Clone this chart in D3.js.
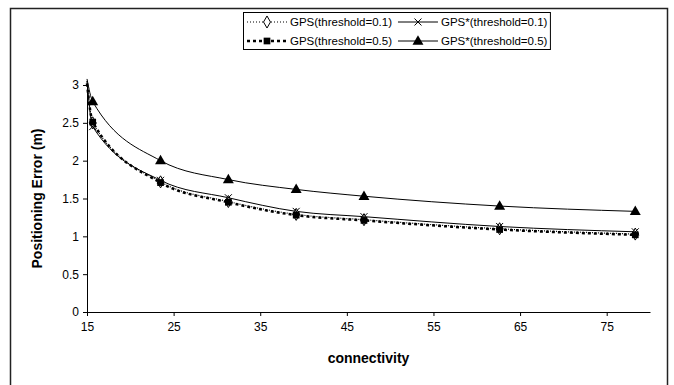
<!DOCTYPE html>
<html>
<head>
<meta charset="utf-8">
<script src="https://cdn.jsdelivr.net/npm/d3@7"></script>
<style>
  body { margin: 0; background: #fff; }
  text { font-family: "Liberation Sans", Arial, sans-serif; fill: #000; }
</style>
</head>
<body>
<script>
// connectivity values; the first one is where the curves enter the plot
// at the left edge (no marker is drawn there)
const connectivity = [15, 15.66, 23.49, 31.32, 39.15, 46.98, 62.64, 78.3];

const gpsT01 = [3.05, 2.5, 1.72, 1.46, 1.29, 1.22, 1.1, 1.03];
const gpsT05 = [3.02, 2.51, 1.71, 1.45, 1.28, 1.21, 1.09, 1.02];
const gpsStarT01 = [3.05, 2.45, 1.74, 1.51, 1.33, 1.26, 1.13, 1.06];
const gpsStarT05 = [3.08, 2.78, 2.0, 1.75, 1.62, 1.53, 1.4, 1.33];

const seriesNames = [
	"GPS(threshold=0.1)",
	"GPS*(threshold=0.1)",
	"GPS(threshold=0.5)",
	"GPS*(threshold=0.5)",
];

const xTicks = [15, 25, 35, 45, 55, 65, 75];
const yTicks = [0, 0.5, 1, 1.5, 2, 2.5, 3];

const width = 674;
const height = 385;

const series = [
	{ name: seriesNames[0], values: gpsT01, dash: "1,2", strokeWidth: 1.2, marker: "diamond" },
	{ name: seriesNames[1], values: gpsStarT01, dash: null, strokeWidth: 1, marker: "times" },
	{ name: seriesNames[2], values: gpsT05, dash: "3,3", strokeWidth: 2.5, marker: "square" },
	{ name: seriesNames[3], values: gpsStarT05, dash: null, strokeWidth: 1, marker: "triangle" },
];

const svg = d3
	.select("body")
	.append("svg")
	.attr("width", width)
	.attr("height", height);

// outer frame of the figure
svg
	.append("rect")
	.attr("x", 10.5)
	.attr("y", 8.5)
	.attr("width", 657)
	.attr("height", 400)
	.style("fill", "none")
	.style("stroke", "#222")
	.style("stroke-width", 1.5);

const x = d3.scaleLinear().domain([15, 80]).range([87, 650]);
const y = d3.scaleLinear().domain([0, 3]).range([312, 85]);

// axes
const xAxis = d3.axisBottom(x).tickValues(xTicks).tickSize(4).tickSizeOuter(0).tickPadding(6);
const yAxis = d3
	.axisLeft(y)
	.tickValues(yTicks)
	.tickSize(4)
	.tickSizeOuter(0)
	.tickPadding(4)
	.tickFormat((d) => d);

const gx = svg.append("g").attr("transform", `translate(0,${y(0)})`).call(xAxis);
const gy = svg.append("g").attr("transform", `translate(${x(15)},0)`).call(yAxis);

[gx, gy].forEach((g) => {
	g.selectAll("text").style("font-size", "12px").style("font-family", '"Liberation Sans", Arial, sans-serif');
	g.selectAll("line, path").style("stroke", "#000");
});

// axis titles
svg
	.append("text")
	.attr("x", x(47.5))
	.attr("y", 363)
	.attr("text-anchor", "middle")
	.style("font-size", "14px")
	.style("font-weight", "bold")
	.text("connectivity");

svg
	.append("text")
	.attr("transform", `translate(42,${y(1.5)}) rotate(-90)`)
	.attr("text-anchor", "middle")
	.style("font-size", "14px")
	.style("font-weight", "bold")
	.text("Positioning Error (m)");

// lines
const line = d3
	.line()
	.x((d) => x(d[0]))
	.y((d) => y(d[1]))
	.curve(d3.curveMonotoneX);

series.forEach((s) => {
	const pts = connectivity.map((c, i) => [c, s.values[i]]);
	svg
		.append("path")
		.attr("d", line(pts))
		.style("fill", "none")
		.style("stroke", "#000")
		.style("stroke-width", s.strokeWidth)
		.style("stroke-dasharray", s.dash);
});

const drawMarker = (g, type, cx, cy) => {
	if (type === "diamond") {
		g.append("path")
			.attr("d", d3.symbol(d3.symbolDiamond, 42)())
			.attr("transform", `translate(${cx},${cy})`)
			.style("fill", "#fff")
			.style("stroke", "#000")
			.style("stroke-width", 1);
	} else if (type === "square") {
		g.append("path")
			.attr("d", d3.symbol(d3.symbolSquare, 45)())
			.attr("transform", `translate(${cx},${cy})`)
			.style("fill", "#000");
	} else if (type === "triangle") {
		g.append("path")
			.attr("d", d3.symbol(d3.symbolTriangle, 52)())
			.attr("transform", `translate(${cx},${cy + 0.5})`)
			.style("fill", "#000");
	} else {
		const r = 3.5;
		g.append("path")
			.attr("d", `M${-r},${-r}L${r},${r}M${-r},${r}L${r},${-r}`)
			.attr("transform", `translate(${cx},${cy})`)
			.style("fill", "none")
			.style("stroke", "#000")
			.style("stroke-width", 1);
	}
};

// markers: diamonds first, the filled squares over them give the dark blobs
const markerOrder = [0, 2, 1, 3];
markerOrder.forEach((si) => {
	const s = series[si];
	const g = svg.append("g");
	connectivity.forEach((c, i) => {
		if (i === 0) return;
		drawMarker(g, s.marker, x(c), y(s.values[i]));
	});
});

// legend
const legend = svg.append("g");
const legendBox = legend
	.append("rect")
	.attr("x", 243.5)
	.attr("y", 12.5)
	.attr("height", 37)
	.style("fill", "#fff")
	.style("stroke", "#000")
	.style("stroke-width", 1);

const rowY = [22, 41];
const symbolW = 40;
let colX = 247;
let maxRight = 0;
[[0, 2], [1, 3]].forEach((col) => {
	let colRight = 0;
	col.forEach((si, r) => {
		const s = series[si];
		const ly = rowY[r];
		legend
			.append("line")
			.attr("x1", colX)
			.attr("x2", colX + symbolW)
			.attr("y1", ly)
			.attr("y2", ly)
			.style("stroke", "#000")
			.style("stroke-width", s.strokeWidth)
			.style("stroke-dasharray", s.dash);
		drawMarker(legend, s.marker, colX + symbolW / 2, ly);
		const t = legend
			.append("text")
			.attr("x", colX + symbolW + 3)
			.attr("y", ly + 4)
			.style("font-size", "11.5px")
			.text(s.name);
		colRight = Math.max(colRight, colX + symbolW + 3 + t.node().getComputedTextLength());
	});
	maxRight = colRight;
	colX = colRight + 6;
});
legendBox.attr("width", maxRight + 3 - 243.5);
</script>
</body>
</html>
